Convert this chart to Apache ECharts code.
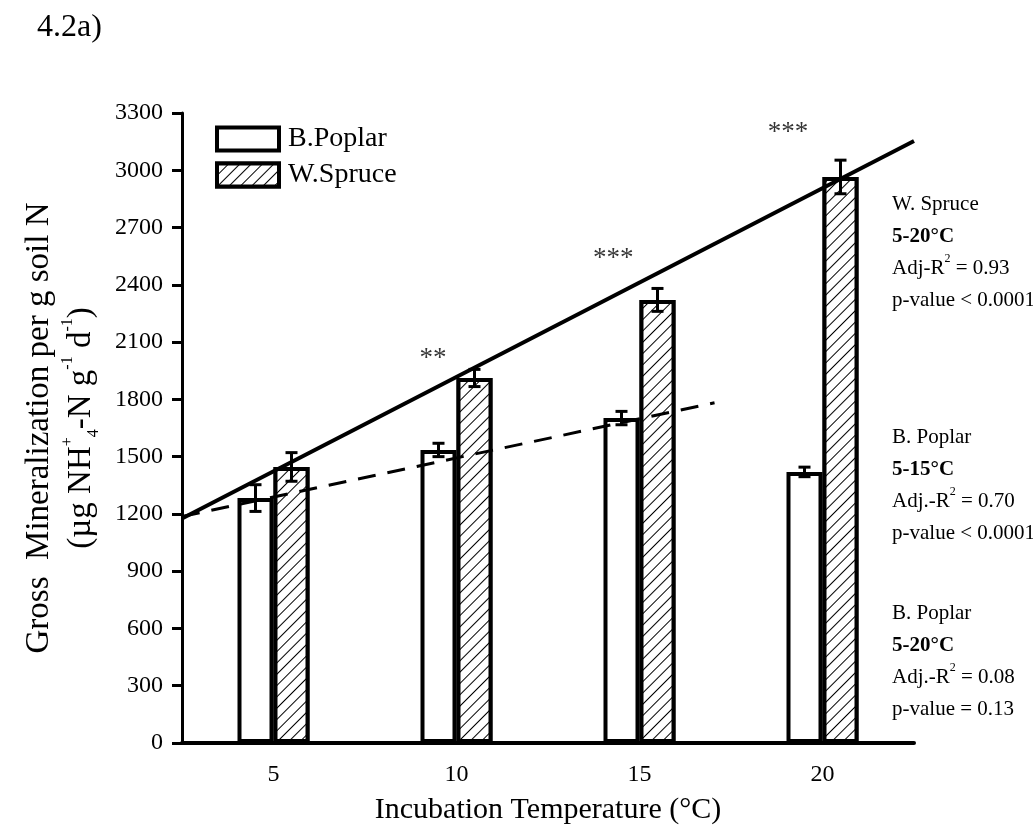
<!DOCTYPE html>
<html>
<head>
<meta charset="utf-8">
<script src="https://cdn.jsdelivr.net/npm/echarts@6/dist/echarts.min.js"></script>
<style>
  html, body { margin: 0; padding: 0; background: #ffffff; }
  #chart { width: 1033px; height: 836px; }
</style>
</head>
<body>
<div id="chart"></div>
<script>
// Incubation temperatures (°C) and measured gross mineralization
const categories = ['5', '10', '15', '20'];
const poplarMean = [1283, 1535, 1702, 1420];
const poplarErr = [70, 35, 35, 25];
const spruceMean = [1446, 1912, 2321, 2965];
const spruceErr = [75, 45, 60, 88];

// y axis range
const yMin = 0;
const yMax = 3300;
const yStep = 300;

// fitted regression lines (temperature, value at ends)
const spruceFitT = [2.5, 22.5];
const spruceFitV = [1176, 3153];
const poplarFitT = [2.5, 17.05];
const poplarFitV = [1186, 1782];

// significance markers between species
const sigT = [9.36, 14.28, 19.06];
const sigV = [2010, 2535, 3195];
const sigText = ['**', '***', '***'];

// regression notes on the right
const noteSpruce = ['W. Spruce', '5-20°C', 'Adj-R', ' = 0.93', 'p-value < 0.0001'];
const notePoplar15 = ['B. Poplar', '5-15°C', 'Adj.-R', ' = 0.70', 'p-value < 0.0001'];
const notePoplar20 = ['B. Poplar', '5-20°C', 'Adj.-R', ' = 0.08', 'p-value = 0.13'];

const FONT = '"Liberation Serif", "Times New Roman", serif';
const BAR_W = 36;
const CAP_W = 12;

function noteText(n) {
  return '{n|' + n[0] + '}\n{b|' + n[1] + '}\n{n|' + n[2] + '}{s|2}{n|' + n[3] + '}\n{n|' + n[4] + '}';
}
const noteRich = {
  n: { fontFamily: FONT, fontSize: 21, lineHeight: 32, color: '#000' },
  b: { fontFamily: FONT, fontSize: 21, lineHeight: 32, fontWeight: 'bold', color: '#000' },
  s: { fontFamily: FONT, fontSize: 12, lineHeight: 22, verticalAlign: 'top', color: '#000' }
};

function errorSeries(mean, err, side) {
  return {
    type: 'custom',
    xAxisIndex: 0,
    yAxisIndex: 0,
    silent: true,
    z: 6,
    data: mean.map((m, i) => [i, m, err[i]]),
    renderItem: function (params, api) {
      const i = api.value(0), m = api.value(1), e = api.value(2);
      const hi = api.coord([i, m + e]);
      const lo = api.coord([i, m - e]);
      const x = hi[0] + side * BAR_W / 2;
      const hw = CAP_W / 2;
      const st = { stroke: '#000', lineWidth: 3 };
      return {
        type: 'group',
        children: [
          { type: 'line', shape: { x1: x, y1: hi[1], x2: x, y2: lo[1] }, style: st },
          { type: 'line', shape: { x1: x - hw, y1: hi[1], x2: x + hw, y2: hi[1] }, style: st },
          { type: 'line', shape: { x1: x - hw, y1: lo[1], x2: x + hw, y2: lo[1] }, style: st }
        ]
      };
    }
  };
}

const hatch = {
  symbol: 'rect',
  symbolSize: 1,
  color: '#000',
  backgroundColor: '#ffffff',
  dashArrayX: [1, 0],
  dashArrayY: [1, 6.5],
  rotation: -Math.PI / 4
};

const chart = echarts.init(document.getElementById('chart'), null, { renderer: 'canvas' });

const option = {
  backgroundColor: '#ffffff',
  animation: false,
  textStyle: { fontFamily: FONT, color: '#000' },
  grid: { left: 182, right: 119, top: 113, bottom: 93, containLabel: false },
  legend: {
    data: ['B.Poplar', 'W.Spruce'],
    orient: 'vertical',
    left: 210,
    top: 120,
    itemWidth: 62,
    itemHeight: 23,
    itemGap: 8,
    icon: 'rect',
    selectedMode: false,
    itemStyle: { borderWidth: 4, borderColor: '#000' },
    textStyle: { fontFamily: FONT, fontSize: 28, lineHeight: 28, color: '#000', padding: [0, 0, 0, 4] }
  },
  xAxis: [
    {
      type: 'category',
      data: categories,
      boundaryGap: true,
      axisLine: { lineStyle: { color: '#000', width: 4 } },
      axisTick: { alignWithLabel: true, length: 10, lineStyle: { color: '#000', width: 3 } },
      axisLabel: { fontFamily: FONT, fontSize: 24, color: '#000', margin: 20 },
      splitLine: { show: false },
      name: 'Incubation Temperature (°C)',
      nameLocation: 'middle',
      nameGap: 52,
      nameTextStyle: { fontFamily: FONT, fontSize: 30, color: '#000' }
    },
    { type: 'value', min: 2.5, max: 22.5, show: false }
  ],
  yAxis: {
    type: 'value',
    min: yMin,
    max: yMax,
    interval: yStep,
    axisLine: { show: true, lineStyle: { color: '#000', width: 3 } },
    axisTick: { show: true, length: 10, lineStyle: { color: '#000', width: 3 } },
    axisLabel: { fontFamily: FONT, fontSize: 24, color: '#000', margin: 19, formatter: v => String(v) },
    splitLine: { show: false },
    name: '{a|Gross  Mineralization per g soil N}\n{a|(µg NH}{sp|+}{sb|4}{a|-N g}{sp|-1}{a| d}{sp|-1}{a|)}',
    nameLocation: 'middle',
    nameRotate: 90,
    nameGap: 80,
    nameTextStyle: {
      rich: {
        a: { fontFamily: FONT, fontSize: 33, lineHeight: 42, color: '#000' },
        sp: { fontFamily: FONT, fontSize: 16, lineHeight: 26, verticalAlign: 'top', color: '#000' },
        sb: { fontFamily: FONT, fontSize: 16, lineHeight: 26, verticalAlign: 'bottom', color: '#000' }
      }
    }
  },
  series: [
    {
      name: 'B.Poplar',
      type: 'bar',
      data: poplarMean,
      barWidth: BAR_W,
      barGap: '0%',
      z: 2,
      itemStyle: { color: '#ffffff', borderColor: '#000', borderWidth: 4 }
    },
    {
      name: 'W.Spruce',
      type: 'bar',
      data: spruceMean,
      barWidth: BAR_W,
      barGap: '0%',
      z: 2,
      itemStyle: { color: '#ffffff', borderColor: '#000', borderWidth: 4, decal: hatch }
    },
    errorSeries(poplarMean, poplarErr, -1),
    errorSeries(spruceMean, spruceErr, 1),
    {
      type: 'line',
      xAxisIndex: 1,
      data: spruceFitT.map((t, i) => [t, spruceFitV[i]]),
      symbol: 'none',
      silent: true,
      z: 5,
      lineStyle: { color: '#000', width: 4 }
    },
    {
      type: 'line',
      xAxisIndex: 1,
      data: poplarFitT.map((t, i) => [t, poplarFitV[i]]),
      symbol: 'none',
      silent: true,
      z: 5,
      lineStyle: { color: '#000', width: 3, type: [18, 12] }
    },
    {
      type: 'scatter',
      xAxisIndex: 1,
      data: sigT.map((t, i) => [t, sigV[i]]),
      symbolSize: 1,
      silent: true,
      itemStyle: { color: 'rgba(0,0,0,0)' },
      label: {
        show: true,
        position: 'inside',
        formatter: p => sigText[p.dataIndex],
        fontFamily: FONT,
        fontSize: 27,
        color: '#000'
      }
    }
  ],
  graphic: [
    { type: 'text', left: 37, top: 12, style: { text: '4.2a)', font: '32px ' + FONT, fill: '#000' } },
    { type: 'text', left: 892, top: 194, style: { text: noteText(noteSpruce), rich: noteRich } },
    { type: 'text', left: 892, top: 427, style: { text: noteText(notePoplar15), rich: noteRich } },
    { type: 'text', left: 892, top: 603, style: { text: noteText(notePoplar20), rich: noteRich } }
  ]
};

chart.setOption(option);
</script>
</body>
</html>
